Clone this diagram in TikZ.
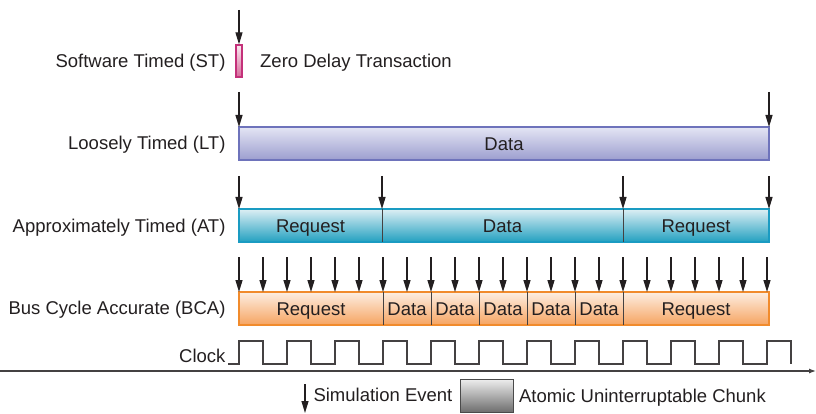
\documentclass[tikz,border=0pt]{standalone}
\usepackage{fontspec}
\setmainfont{Liberation Sans}
\usetikzlibrary{arrows.meta,positioning}

\definecolor{ink}{HTML}{231F20}
\definecolor{stline}{HTML}{C4317A}
\definecolor{stlight}{HTML}{F9EAF1}
\definecolor{stfill}{HTML}{D66A9A}
\definecolor{ltline}{HTML}{6E73BB}
\definecolor{ltlight}{HTML}{E4E5F4}
\definecolor{ltfill}{HTML}{9C9ECF}
\definecolor{atline}{HTML}{1A9BC2}
\definecolor{atlight}{HTML}{DDEFF4}
\definecolor{atfill}{HTML}{22A0C0}
\definecolor{bcaline}{HTML}{F18B2C}
\definecolor{bcalight}{HTML}{FDEEE2}
\definecolor{bcafill}{HTML}{F6A461}
\definecolor{chunkline}{HTML}{4A4A4A}
\definecolor{chunklight}{HTML}{EEEEEE}
\definecolor{chunkfill}{HTML}{6E6E6E}

\begin{document}
\begin{tikzpicture}[x=1pt, y=-1pt,
  every node/.style={font=\fontsize{18.5}{21}\selectfont, text=ink, text height=13.3pt, text depth=0pt},
  evt/.style={draw=ink, line width=1.2pt, -{Triangle[length=12pt, width=7pt]}},
  bar/.style={rectangle, inner sep=0pt, line width=1.6pt, minimum width=530pt, minimum height=33pt},
  cut/.style={draw=ink!85, line width=0.9pt}]
  \useasboundingbox (0,0) rectangle (816,414);

  % model names
  \foreach \n/\y/\t in {st/61/Software Timed (ST), lt/143/Loosely Timed (LT),
      at/226/Approximately Timed (AT), bca/308/Bus Cycle Accurate (BCA), clk/356/Clock}
    \node[anchor=east] (lbl-\n) at (229,\y) {\t};

  % bars
  \node[bar, draw=stline, top color=stlight, bottom color=stfill, minimum width=6pt, minimum height=32pt, line width=1.3pt] (st) at (239,61) {};
  \node[right=14pt of st] (zdt) {Zero Delay Transaction};
  \node[bar, draw=ltline, top color=ltlight, middle color=ltfill, bottom color=ltfill] (lt) at (504,143.5) {Data};
  \node[bar, draw=atline, top color=atlight, middle color=atfill!70!atlight, bottom color=atfill] (at) at (504,225.5) {};
  \node[bar, draw=bcaline, top color=bcalight, middle color=bcafill!70!bcalight, bottom color=bcafill] (bca) at (504,308.5) {};

  % AT phases
  \foreach \a/\b/\t [count=\i] in {239/382/Request, 382/623/Data, 623/769/Request}
    \node (at\i) at ({(\a+\b)/2},225.5) {\t};
  \foreach \x in {382,623}
    \draw[cut] (\x,209) -- (\x,242);

  % BCA phases
  \foreach \a/\b/\t [count=\i] in {239/383/Request, 383/431/Data, 431/479/Data,
      479/527/Data, 527/575/Data, 575/623/Data, 623/769/Request}
    \node (bca\i) at ({(\a+\b)/2},308.5) {\t};
  \foreach \x in {383,431,...,623}
    \draw[cut] (\x,292) -- (\x,325);

  % simulation events
  \coordinate (st-s) at (239,10);
  \draw[evt] (st-s) -- (st.north);
  \foreach \x [count=\i] in {239,769} {
    \coordinate (lt-s\i) at (\x,92);
    \coordinate (lt-e\i) at (\x,127);
    \draw[evt] (lt-s\i) -- (lt-e\i);
  }
  \foreach \x [count=\i] in {239,382,623,769} {
    \coordinate (at-s\i) at (\x,176);
    \coordinate (at-e\i) at (\x,209);
    \draw[evt] (at-s\i) -- (at-e\i);
  }
  \foreach \x [count=\i] in {239,263,...,767} {
    \coordinate (bca-s\i) at (\x,257);
    \coordinate (bca-e\i) at (\x,292);
    \draw[evt] (bca-s\i) -- (bca-e\i);
  }

  % clock and time axis
  \draw[ink!85, line width=1.1pt] (228,364)
    \foreach \k in {0,...,11} {
      -- ({239+48*\k},364) -- ({239+48*\k},341) -- ({263+48*\k},341) -- ({263+48*\k},364)
    };
  \coordinate (t0) at (0,371);
  \coordinate (t1) at (816,371);
  \draw[ink!85, line width=1.2pt, -{Latex[length=7pt, width=5pt]}] (t0) -- (t1);

  % legend
  \coordinate (ev-s) at (305,384);
  \coordinate (ev-e) at (305,413);
  \draw[evt] (ev-s) -- (ev-e);
  \node[anchor=west] (ev) at (310,395) {Simulation Event};
  \node[rectangle, draw=chunkline, line width=1pt, top color=chunklight, bottom color=chunkfill,
    minimum width=53pt, minimum height=33pt, text height=0pt] (chunk) at (486.5,395.5) {};
  \node[right=2pt of chunk] (chunklbl) {Atomic Uninterruptable Chunk};
\end{tikzpicture}
\end{document}
